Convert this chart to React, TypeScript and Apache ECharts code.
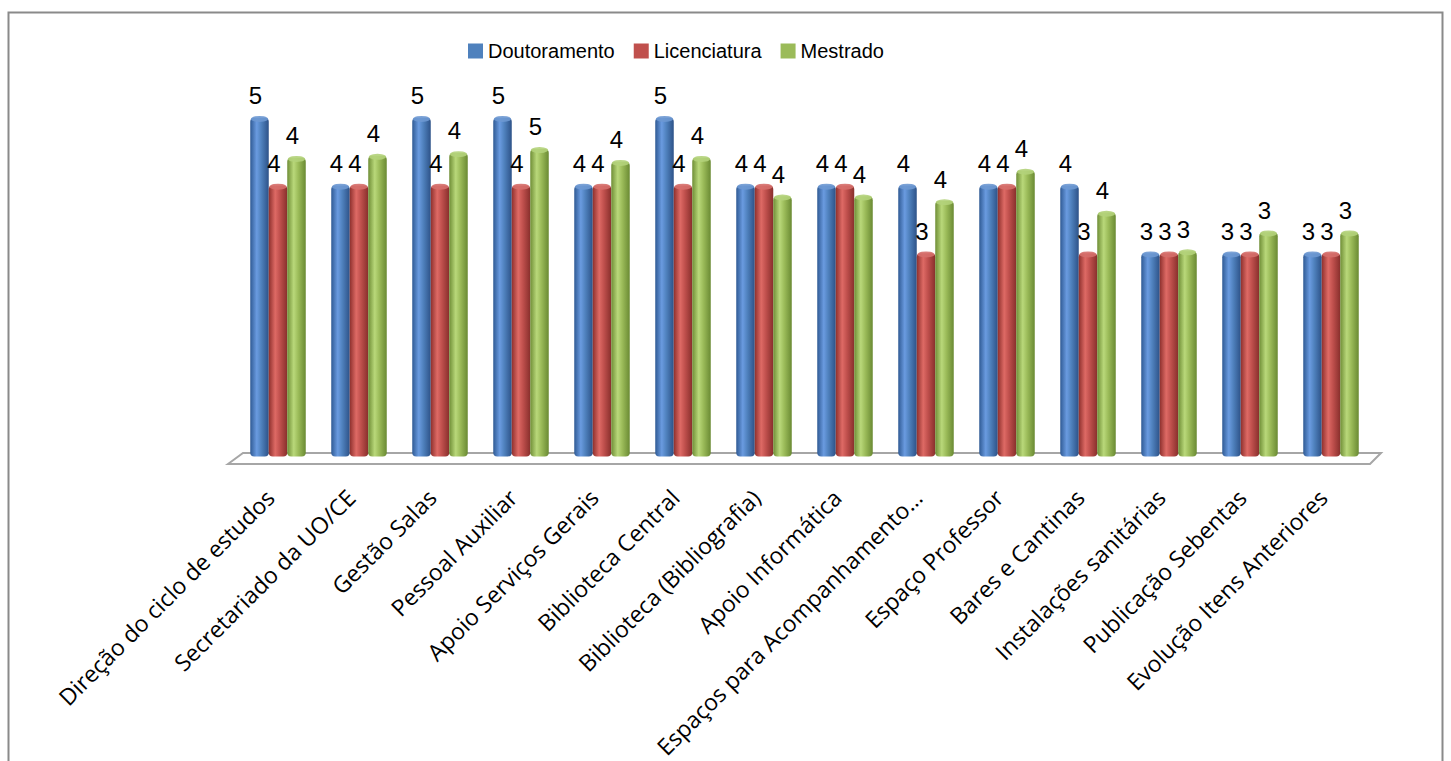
import React, { useEffect, useRef } from "react";
import * as echarts from "echarts";

const categories = [
  "Direção do ciclo de estudos",
  "Secretariado da UO/CE",
  "Gestão Salas",
  "Pessoal Auxiliar",
  "Apoio Serviços Gerais",
  "Biblioteca Central",
  "Biblioteca (Bibliografia)",
  "Apoio Informática",
  "Espaços para Acompanhamento…",
  "Espaço Professor",
  "Bares e Cantinas",
  "Instalações sanitárias",
  "Publicação Sebentas",
  "Evolução Itens Anteriores",
];

const doutoramento = [5, 4, 5, 5, 4, 5, 4, 4, 4, 4, 4, 3, 3, 3];
const licenciatura = [4, 4, 4, 4, 4, 4, 4, 4, 3, 4, 3, 3, 3, 3];
const mestrado = [4.41, 4.44, 4.48, 4.54, 4.35, 4.41, 3.84, 3.84, 3.77, 4.22, 3.6, 3.03, 3.31, 3.31];

const seriesNames = ["Doutoramento", "Licenciatura", "Mestrado"];
const seriesData = [doutoramento, licenciatura, mestrado];

const baseColors = ["#4F81BD", "#C0504D", "#9BBB59"];
const shades = [
  ["#2f5a94", "#6a9be0", "#4f81bd", "#2d5288"],
  ["#8e302d", "#de6a65", "#c0504d", "#882f2c"],
  ["#6f8e36", "#b9d87a", "#9bbb59", "#6a8a33"],
];
const capColors = ["#6d98d2", "#d56e6a", "#b3d17a"];

const SANS = "'Liberation Sans', Arial, sans-serif";

export default function App() {
  const ref = useRef<HTMLDivElement>(null);
  useEffect(() => {
    if (!ref.current) return;
    const chart = echarts.init(ref.current, null, { renderer: "svg" });

    const barSeries = seriesData.map((d, i) => ({
      name: seriesNames[i],
      type: "bar",
      data: d,
      barWidth: 18.5,
      barGap: "0%",
      z: 2,
      itemStyle: {
        color: new echarts.graphic.LinearGradient(0, 0, 1, 0, [
          { offset: 0, color: shades[i][0] },
          { offset: 0.35, color: shades[i][1] },
          { offset: 0.6, color: shades[i][2] },
          { offset: 1, color: shades[i][3] },
        ]),
        borderRadius: [4, 4, 4, 4],
      },
      label: {
        show: true,
        position: "top",
        distance: 10,
        offset: [-4, 0],
        fontFamily: SANS,
        fontSize: 24,
        color: "#000",
        formatter: (p: any) => String(Math.round(p.value)),
      },
    }));

    const capSeries = seriesData.map((d, i) => ({
      name: seriesNames[i] + " cap",
      type: "pictorialBar",
      data: d,
      barWidth: 18.5,
      barGap: "0%",
      symbol: "circle",
      symbolSize: [17, 6],
      symbolPosition: "end",
      symbolOffset: [0, "-30%"],
      z: 3,
      silent: true,
      itemStyle: { color: capColors[i], opacity: 0.9 },
    }));

    chart.setOption({
      animation: false,
      backgroundColor: "#ffffff",
      legend: {
        data: seriesNames.map((n, i) => ({ name: n, itemStyle: { color: baseColors[i] } })),
        left: 463,
        top: 36,
        itemWidth: 15,
        itemHeight: 15,
        itemGap: 19,
        icon: "rect",
        textStyle: { fontFamily: SANS, fontSize: 20, color: "#000" },
      },
      grid: { left: 237.5, width: 1134, top: 50, height: 408 },
      xAxis: {
        type: "category",
        data: categories,
        axisLine: { show: false },
        axisTick: { show: false },
        axisLabel: {
          interval: 0,
          rotate: 45,
          margin: 45,
          verticalAlign: "bottom",
          fontFamily: "'Open Sans', sans-serif",
          fontSize: 23,
          color: "#000",
        },
      },
      yAxis: {
        type: "value",
        min: 0,
        max: 6,
        show: false,
        splitLine: { show: false },
      },
      graphic: [
        {
          type: "rect",
          z: -10,
          shape: { x: 8.5, y: 12.5, width: 1434, height: 800 },
          style: { fill: "none", stroke: "#8a8a8a", lineWidth: 2 },
        },
        {
          type: "polygon",
          z: -5,
          shape: { points: [[228, 464], [243, 453], [1381, 453], [1370, 464]] },
          style: { fill: "#ffffff", stroke: "#a6a6a6", lineWidth: 2 },
        },
      ],
      series: [...barSeries, ...capSeries],
    });
    return () => chart.dispose();
  }, []);
  return (
    <div
      ref={ref}
      style={{ position: "absolute", left: 0, top: 0, width: 1451, height: 761 }}
    />
  );
}
